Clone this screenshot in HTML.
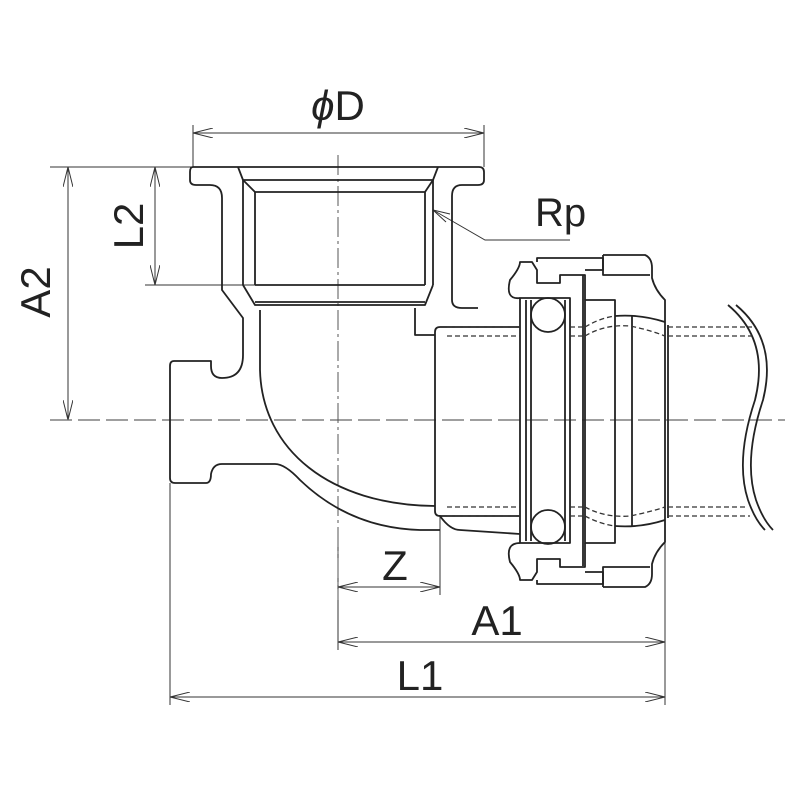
<!DOCTYPE html>
<html><head><meta charset="utf-8"><style>html,body{margin:0;padding:0;background:#fff}svg{display:block}</style></head>
<body>
<svg width="800" height="800" viewBox="0 0 800 800" xmlns="http://www.w3.org/2000/svg" font-family="Liberation Sans, sans-serif">
<defs>
<marker id="ar" viewBox="0 0 20 10" refX="20" refY="5" markerWidth="20" markerHeight="10" markerUnits="userSpaceOnUse" orient="auto-start-reverse">
<path d="M0,0 L20,5 L0,10" fill="none" stroke="#333" stroke-width="1"/>
</marker>
</defs>
<g stroke="#333" stroke-width="1" fill="none">
<line x1="50" y1="167" x2="193" y2="167"/>
<line x1="145" y1="285" x2="255" y2="285"/>
<line x1="193" y1="125" x2="193" y2="167"/>
<line x1="484" y1="125" x2="484" y2="167"/>
<line x1="170" y1="483" x2="170" y2="705"/>
<line x1="338" y1="530" x2="338" y2="650"/>
<line x1="440" y1="515" x2="440" y2="595"/>
<line x1="665" y1="530" x2="665" y2="705"/>
<line x1="193" y1="133" x2="484" y2="133" marker-start="url(#ar)" marker-end="url(#ar)"/>
<line x1="68" y1="167" x2="68" y2="420" marker-start="url(#ar)" marker-end="url(#ar)"/>
<line x1="155" y1="167" x2="155" y2="285" marker-start="url(#ar)" marker-end="url(#ar)"/>
<line x1="338" y1="587" x2="440" y2="587" marker-start="url(#ar)" marker-end="url(#ar)"/>
<line x1="338" y1="642" x2="665" y2="642" marker-start="url(#ar)" marker-end="url(#ar)"/>
<line x1="170" y1="697" x2="665" y2="697" marker-start="url(#ar)" marker-end="url(#ar)"/>
<polyline points="433,210 485,240 570,240"/>
<path d="M433,210 L450,214 M433,210 L446,222"/>
<line x1="50" y1="420" x2="785" y2="420" stroke="#666" stroke-width="1.3" stroke-dasharray="22,6"/>
<line x1="338" y1="155" x2="338" y2="600" stroke="#555" stroke-dasharray="20,4,3,4"/>
</g>
<g stroke="#222" stroke-width="1.8" fill="none" stroke-linejoin="round">
<path d="M240,167 L193,167 Q190,167 190,172 L190,180 Q190,185 196,185 L210,185 Q222,185 222,198 L222,290 L243,318 L243,355 Q243,378 222,378 Q211,378 211,366 L211,361 L174,361 Q170,361 170,366 L170,478 Q170,483 175,483 L206,483 Q211,483 211,474 Q213,464 222,464 L275,464 Q285,464 300,480 Q350,528 420,530 L440,530"/>
<line x1="240" y1="167" x2="440" y2="167"/>
<path d="M440,167 L479,167 Q484,167 484,172 L484,180 Q484,185 478,185 L462,185 Q452,185 452,196"/>
<path d="M452,196 L452,300 Q452,308 462,308 L478,308"/>
<path d="M238,167 L243,180 L433,180 L438,167"/>
<line x1="243" y1="180" x2="243" y2="285"/>
<line x1="433" y1="180" x2="433" y2="285"/>
<path d="M243,180 L255,192 L425,192 L433,180"/>
<line x1="255" y1="192" x2="255" y2="285"/>
<line x1="425" y1="192" x2="425" y2="285"/>
<path d="M243,285 L255,305 L425,305 L433,285"/>
<line x1="255" y1="285" x2="425" y2="285"/>
<line x1="255" y1="302" x2="425" y2="302"/>
<path d="M415,308 L415,335 L435,335"/>
<path d="M260,310 L260,370 C262,450 330,505 435,506"/>
<path d="M520,327 L440,327 Q435,327 435,332 L435,511 Q435,516 440,516 L520,516"/>
<path d="M440,516 Q450,530 460,530 L520,534"/>
<rect x="520" y="298" width="50" height="245"/>
<line x1="526" y1="300" x2="526" y2="541"/>
<line x1="531" y1="300" x2="531" y2="541"/>
<line x1="565" y1="300" x2="565" y2="541"/>
<circle cx="548" cy="315" r="17"/>
<circle cx="548" cy="527" r="17"/>
<line x1="583" y1="275" x2="583" y2="566"/>
<rect x="585" y="300" width="30" height="243"/>
<path d="M520,298 Q505,300 510,280 Q520,268 520,262 L532,262 L537,270 L537,283 L560,283 L560,275 L585,275 L585,300"/>
<path d="M537,262 L537,258 L603,258 L603,270 L585,270"/>
<path d="M603,255 L645,255 Q652,258 652,268 L652,278 Q655,290 665,300 L665,318"/>
<path d="M603,255 L603,275 L650,275"/>
<path d="M520,543 Q505,543 510,562 Q520,574 520,580 L532,580 L537,572 L537,559 L560,559 L560,567 L585,567 L585,543"/>
<path d="M537,580 L537,584 L603,584 L603,572 L585,572"/>
<path d="M603,587 L645,587 Q652,584 652,574 L652,564 Q655,552 665,542 L665,525"/>
<path d="M603,587 L603,567 L650,567"/>
<line x1="632" y1="315" x2="632" y2="527"/>
<line x1="665" y1="318" x2="665" y2="525"/>
<line x1="668" y1="325" x2="668" y2="518"/>
<path d="M615,316 Q640,314 665,322"/>
<path d="M615,526 Q640,528 665,520"/>
<path d="M728,305 Q770,340 755,400 Q735,460 748,500 Q755,520 765,530"/>
<path d="M736,305 Q778,340 763,400 Q743,460 756,500 Q763,520 773,530"/>
</g>
<g stroke="#333" stroke-width="1.3" fill="none" stroke-dasharray="5,3">
<line x1="447" y1="327" x2="520" y2="327"/>
<line x1="447" y1="336" x2="520" y2="336"/>
<line x1="447" y1="507" x2="520" y2="507"/>
<line x1="447" y1="516" x2="520" y2="516"/>
<line x1="570" y1="327" x2="585" y2="327"/>
<line x1="570" y1="336" x2="585" y2="336"/>
<line x1="570" y1="507" x2="585" y2="507"/>
<line x1="570" y1="516" x2="585" y2="516"/>
<path d="M585,327 Q600,318 615,316 M585,336 Q605,324 630,326 Q650,330 665,336"/>
<path d="M585,516 Q600,524 615,526 M585,507 Q605,518 630,516 Q650,512 665,507"/>
<line x1="668" y1="327" x2="752" y2="327"/>
<line x1="668" y1="336" x2="752" y2="336"/>
<line x1="668" y1="507" x2="748" y2="507"/>
<line x1="668" y1="516" x2="750" y2="516"/>
</g>
<g fill="#222" font-size="42">
<text x="338" y="120" text-anchor="middle"><tspan font-style="italic">ϕ</tspan>D</text>
<text x="535" y="226" font-size="40">Rp</text>
<text x="395" y="580" text-anchor="middle">Z</text>
<text x="497" y="635" text-anchor="middle">A1</text>
<text x="420" y="690" text-anchor="middle">L1</text>
<text transform="translate(50,292) rotate(-90)" text-anchor="middle">A2</text>
<text transform="translate(143,226) rotate(-90)" text-anchor="middle">L2</text>
</g>
</svg>
</body></html>
